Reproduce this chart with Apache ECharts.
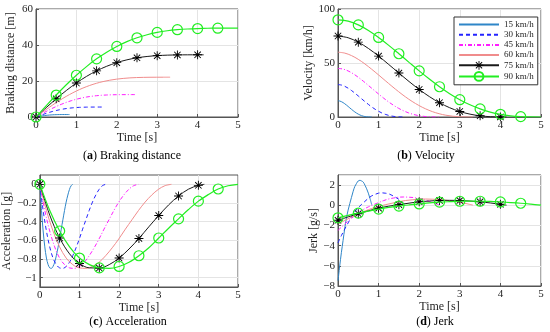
<!DOCTYPE html>
<html><head><meta charset="utf-8">
<script src="https://cdn.jsdelivr.net/npm/echarts@6/dist/echarts.min.js"></script>
<style>html,body{margin:0;padding:0;background:#fff}#c{width:550px;height:332px}</style>
</head><body><div id="c"></div><script>
// ---------- data ----------
const speedNames = ['15 km/h', '30 km/h', '45 km/h', '60 km/h', '75 km/h', '90 km/h'];
const xTicks = [0, 1, 2, 3, 4, 5];
const accTicks = [-1, -0.8, -0.6, -0.4, -0.2, 0];

const time15 = [0, 0.042, 0.083, 0.125, 0.166, 0.208, 0.249, 0.291, 0.332, 0.374, 0.415, 0.457, 0.498, 0.54, 0.581, 0.623, 0.664, 0.706, 0.747, 0.789, 0.83];
const time30 = [0, 0.083, 0.166, 0.249, 0.332, 0.415, 0.498, 0.581, 0.664, 0.747, 0.83, 0.913, 0.996, 1.079, 1.162, 1.245, 1.328, 1.411, 1.494, 1.577, 1.66];
const time45 = [0, 0.125, 0.249, 0.374, 0.498, 0.623, 0.747, 0.872, 0.996, 1.121, 1.245, 1.37, 1.494, 1.619, 1.743, 1.868, 1.992, 2.117, 2.241, 2.366, 2.49];
const time60 = [0, 0.166, 0.332, 0.498, 0.664, 0.83, 0.996, 1.162, 1.328, 1.494, 1.66, 1.826, 1.992, 2.158, 2.324, 2.49, 2.656, 2.822, 2.988, 3.154, 3.32];
const time75 = [0, 0.25, 0.5, 0.75, 1, 1.25, 1.5, 1.75, 2, 2.25, 2.5, 2.75, 3, 3.25, 3.5, 3.75, 4, 4.15];
const time90 = [0, 0.25, 0.5, 0.75, 1, 1.25, 1.5, 1.75, 2, 2.25, 2.5, 2.75, 3, 3.25, 3.5, 3.75, 4, 4.25, 4.5, 4.75, 5];

const dist15 = [0, 0.17, 0.34, 0.5, 0.65, 0.78, 0.9, 1.0, 1.09, 1.17, 1.23, 1.28, 1.31, 1.34, 1.36, 1.37, 1.38, 1.38, 1.38, 1.38, 1.38];
const dist30 = [0, 0.69, 1.36, 1.99, 2.58, 3.12, 3.6, 4.02, 4.38, 4.68, 4.92, 5.11, 5.26, 5.36, 5.43, 5.48, 5.51, 5.52, 5.53, 5.53, 5.53];
const dist45 = [0, 1.55, 3.05, 4.48, 5.81, 7.02, 8.1, 9.04, 9.85, 10.52, 11.07, 11.5, 11.82, 12.06, 12.22, 12.33, 12.39, 12.42, 12.43, 12.44, 12.44];
const dist60 = [0, 2.75, 5.42, 7.97, 10.33, 12.48, 14.4, 16.08, 17.51, 18.71, 19.68, 20.44, 21.02, 21.44, 21.73, 21.91, 22.02, 22.08, 22.1, 22.11, 22.11];
const dist75 = [0, 5.15, 10.1, 14.71, 18.89, 22.56, 25.64, 28.18, 30.2, 31.76, 32.88, 33.62, 34.09, 34.36, 34.49, 34.54, 34.55, 34.55];
const dist90 = [0, 6.2, 12.2, 17.9, 23.2, 28.0, 32.3, 36.0, 39.2, 41.9, 44.0, 45.7, 47.0, 47.9, 48.5, 48.9, 49.15, 49.3, 49.35, 49.37, 49.37];

const vel15 = [15, 14.79, 14.22, 13.35, 12.27, 11.06, 9.76, 8.43, 7.12, 5.85, 4.67, 3.6, 2.67, 1.88, 1.25, 0.76, 0.41, 0.19, 0.06, 0.01, 0];
const vel30 = [30, 29.59, 28.43, 26.71, 24.55, 22.11, 19.52, 16.87, 14.24, 11.71, 9.34, 7.21, 5.34, 3.77, 2.5, 1.52, 0.83, 0.38, 0.13, 0.02, 0];
const vel45 = [45, 44.38, 42.65, 40.06, 36.82, 33.17, 29.28, 25.3, 21.36, 17.56, 14.01, 10.81, 8.01, 5.65, 3.74, 2.28, 1.24, 0.57, 0.19, 0.03, 0];
const vel60 = [60, 59.17, 56.87, 53.41, 49.1, 44.23, 39.04, 33.74, 28.48, 23.41, 18.68, 14.42, 10.68, 7.54, 4.99, 3.04, 1.66, 0.76, 0.25, 0.04, 0];
const vel75 = [75, 73.37, 69.3, 63.45, 56.4, 48.6, 40.7, 32.85, 25.5, 18.9, 13.2, 8.6, 5.1, 2.65, 1.1, 0.29, 0.04, 0];
const vel90 = [90, 88.76, 85.3, 80.12, 73.65, 66.34, 58.56, 50.61, 42.71, 35.12, 28.03, 21.63, 16.02, 11.3, 7.49, 4.56, 2.48, 1.13, 0.38, 0.06, 0];

const acc15 = [0, -0.28, -0.5, -0.67, -0.79, -0.86, -0.895, -0.9, -0.88, -0.835, -0.765, -0.68, -0.585, -0.48, -0.38, -0.28, -0.19, -0.115, -0.055, -0.015, 0];
const acc30 = [0, -0.28, -0.5, -0.67, -0.79, -0.86, -0.895, -0.9, -0.88, -0.835, -0.765, -0.68, -0.585, -0.48, -0.38, -0.28, -0.19, -0.115, -0.055, -0.015, 0];
const acc45 = [0, -0.28, -0.5, -0.67, -0.79, -0.86, -0.895, -0.9, -0.88, -0.835, -0.765, -0.68, -0.585, -0.48, -0.38, -0.28, -0.19, -0.115, -0.055, -0.015, 0];
const acc60 = [0, -0.28, -0.5, -0.67, -0.79, -0.86, -0.895, -0.9, -0.88, -0.835, -0.765, -0.68, -0.585, -0.48, -0.38, -0.28, -0.19, -0.115, -0.055, -0.015, 0];
const acc75 = [0, -0.33, -0.575, -0.745, -0.848, -0.895, -0.897, -0.86, -0.79, -0.693, -0.58, -0.455, -0.334, -0.22, -0.125, -0.052, -0.011, 0];
const acc90 = [0, -0.28, -0.5, -0.67, -0.79, -0.86, -0.895, -0.9, -0.88, -0.835, -0.765, -0.68, -0.575, -0.47, -0.37, -0.27, -0.18, -0.11, -0.05, -0.015, 0];

const jerk15 = [-7.47, -6.02, -4.7, -3.49, -2.29, -1.27, -0.48, 0.18, 0.78, 1.39, 1.87, 2.17, 2.41, 2.47, 2.41, 2.29, 1.99, 1.63, 1.2, 0.66, 0.06];
const jerk30 = [-3.73, -3.01, -2.35, -1.75, -1.14, -0.63, -0.24, 0.09, 0.39, 0.69, 0.93, 1.08, 1.2, 1.23, 1.2, 1.14, 0.99, 0.81, 0.6, 0.33, 0.03];
const jerk45 = [-2.49, -2.01, -1.57, -1.16, -0.76, -0.42, -0.16, 0.06, 0.26, 0.46, 0.62, 0.72, 0.8, 0.82, 0.8, 0.76, 0.66, 0.54, 0.4, 0.22, 0.02];
const jerk60 = [-1.87, -1.51, -1.17, -0.87, -0.57, -0.32, -0.12, 0.05, 0.2, 0.35, 0.47, 0.54, 0.6, 0.62, 0.6, 0.57, 0.5, 0.41, 0.3, 0.17, 0.02];
const jerk75 = [-1.49, -1.15, -0.84, -0.55, -0.29, -0.09, 0.06, 0.21, 0.34, 0.42, 0.48, 0.49, 0.47, 0.42, 0.34, 0.23, 0.1, 0.01];
const jerk90 = [-1.24, -1.0, -0.78, -0.58, -0.38, -0.21, -0.08, 0.03, 0.13, 0.23, 0.31, 0.36, 0.4, 0.41, 0.4, 0.38, 0.33, 0.27, 0.2, 0.11, 0.01];

// ---------- styling ----------
const FONT = '"Liberation Serif", "Times New Roman", serif';
const TXT = '#262626';
const AX = '#555555';
const GRIDC = '#e4e4e4';
const STAR = 'path://M9 0L11 0L11 20L9 20Z M0 9L20 9L20 11L0 11Z M2.2 3.6L3.6 2.2L17.8 16.4L16.4 17.8Z M16.4 2.2L17.8 3.6L3.6 17.8L2.2 16.4Z';
const styles = [
  { color: '#2f86c8', type: 'solid', width: 1 },
  { color: '#2424ff', type: [4, 3], width: 1 },
  { color: '#ff1eff', type: [4, 2, 1, 2], width: 1 },
  { color: '#f08c8c', type: 'solid', width: 1 },
  { color: '#1a1a1a', type: 'solid', width: 1, symbol: STAR, size: 9, fill: '#000', bw: 0 },
  { color: '#22ee22', type: 'solid', width: 1.2, symbol: 'circle', size: 10, fill: 'rgba(0,0,0,0)', bw: 1.2 }
];
const timeSets = [time15, time30, time45, time60, time75, time90];
const panels = [
  [dist15, dist30, dist45, dist60, dist75, dist90],
  [vel15, vel30, vel45, vel60, vel75, vel90],
  [acc15, acc30, acc45, acc60, acc75, acc90],
  [jerk15, jerk30, jerk45, jerk60, jerk75, jerk90]
];
const minus = v => String(v).replace('-', '\u2212');

function mkSeries(g, k, values) {
  const st = styles[k];
  const T = timeSets[k];
  const data = values.map((v, i) => {
    const item = { value: [T[i], v] };
    if (!st.symbol || i % 2 !== 0 || i === values.length - 1) item.symbol = 'none';
    return item;
  });
  return {
    type: 'line', name: speedNames[k], xAxisIndex: g, yAxisIndex: g, data,
    smooth: 0.35, symbol: st.symbol || 'none', symbolSize: st.size || 4, showAllSymbol: true,
    lineStyle: { color: st.color, width: st.width, type: st.type },
    itemStyle: { color: st.fill || st.color, borderColor: st.color, borderWidth: st.bw || 0 },
    emphasis: { disabled: true }, z: 2 + k, clip: true
  };
}

const grids = [
  { left: 36, top: 9, width: 202, height: 108 },
  { left: 338, top: 9, width: 203, height: 108 },
  { left: 38, top: 175, width: 200, height: 112 },
  { left: 338, top: 175, width: 203, height: 111 }
].map(g => Object.assign(g, { show: true, borderColor: AX, borderWidth: 1, backgroundColor: '#fff' }));

const xAxes = grids.map((g, i) => ({
  type: 'value', gridIndex: i, min: xTicks[0], max: xTicks[xTicks.length - 1], interval: 1,
  name: 'Time [s]', nameLocation: 'middle', nameGap: 15,
  nameTextStyle: { fontFamily: FONT, fontSize: 12, color: TXT },
  axisLine: { show: true, onZero: false, lineStyle: { color: AX, width: 1 } },
  axisTick: { show: true, inside: true, length: 3, lineStyle: { color: AX } },
  axisLabel: { fontFamily: FONT, fontSize: 11, color: TXT, margin: 3 },
  splitLine: { show: true, lineStyle: { color: GRIDC, width: 1 } }
}));

function yAx(i, cfg) {
  return Object.assign({
    type: 'value', gridIndex: i, nameLocation: 'middle', nameRotate: 90,
    nameTextStyle: { fontFamily: FONT, fontSize: 12, color: TXT },
    axisLine: { show: true, onZero: false, lineStyle: { color: AX, width: 1 } },
    axisTick: { show: true, inside: true, length: 3, lineStyle: { color: AX } },
    axisLabel: { fontFamily: FONT, fontSize: 11, color: TXT, margin: 3, formatter: minus },
    splitLine: { show: true, lineStyle: { color: GRIDC, width: 1 } }
  }, cfg);
}
const yAxes = [
  yAx(0, { min: 0, max: 60, interval: 20, name: 'Braking distance [m]', nameGap: 19 }),
  yAx(1, { min: 0, max: 100, interval: 50, name: 'Velocity [km/h]', nameGap: 19 }),
  yAx(2, { min: -1.1, max: 0.1, name: 'Acceleration [g]', nameGap: 24,
    axisTick: { show: true, inside: true, length: 3, lineStyle: { color: AX }, customValues: accTicks },
    axisLabel: { fontFamily: FONT, fontSize: 11, color: TXT, margin: 3, formatter: minus, customValues: accTicks } }),
  yAx(3, { min: -8, max: 3, interval: 2, name: 'Jerk [g/s]', nameGap: 15,
    axisLabel: { fontFamily: FONT, fontSize: 11, color: TXT, margin: 3, formatter: minus, showMaxLabel: false } })
];

const series = [];
panels.forEach((vals, g) => vals.forEach((v, k) => series.push(mkSeries(g, k, v))));

const legendData = speedNames.map((n, k) => styles[k].symbol
  ? { name: n }
  : { name: n, itemStyle: { opacity: 0, color: 'rgba(0,0,0,0)', borderWidth: 0 } });

function caption(x, y, letter, rest) {
  return {
    type: 'text', x, y, z: 100,
    style: {
      text: '({b|' + letter + '}) ' + rest, fill: '#000', font: '12px ' + FONT,
      align: 'center', verticalAlign: 'middle',
      rich: { b: { fontWeight: 'bold', fontFamily: FONT, fontSize: 12, fill: '#000' } }
    }
  };
}

const chart = echarts.init(document.getElementById('c'), null, { renderer: 'canvas' });
chart.setOption({
  animation: false,
  backgroundColor: '#fff',
  grid: grids,
  xAxis: xAxes,
  yAxis: yAxes,
  legend: {
    data: legendData, orient: 'vertical', left: 454, top: 17,
    itemWidth: 40, itemHeight: 11, itemGap: 1.2,
    padding: [3, 4, 3, 4],
    backgroundColor: '#fff', borderColor: '#333', borderWidth: 1,
    textStyle: { fontFamily: FONT, fontSize: 9, color: TXT },
    selectedMode: false
  },
  series,
  graphic: [
    caption(132, 156, 'a', 'Braking distance'),
    caption(426, 156, 'b', 'Velocity'),
    caption(128, 322, 'c', 'Acceleration'),
    caption(435, 322, 'd', 'Jerk')
  ]
});
</script></body></html>
